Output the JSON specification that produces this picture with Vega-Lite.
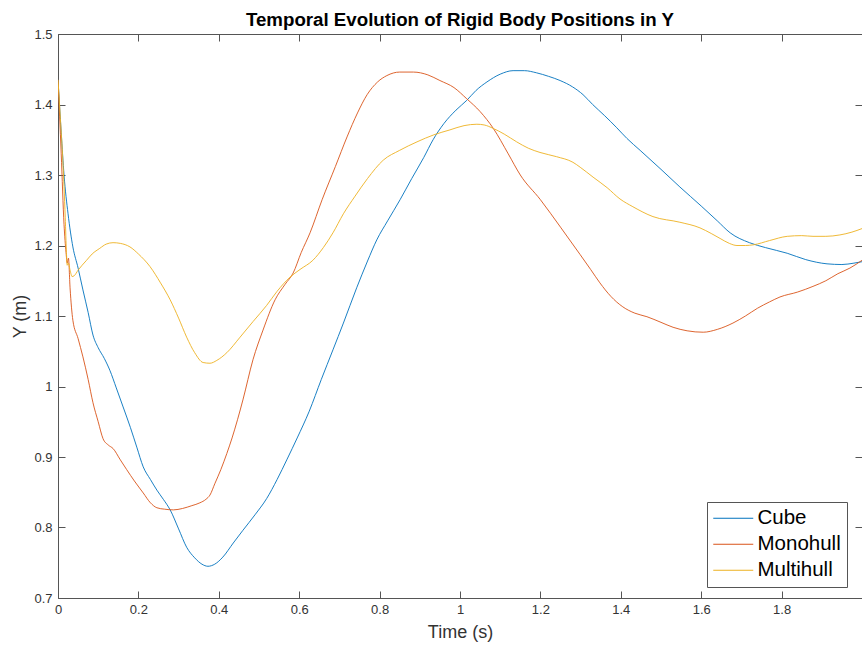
{
  "$schema": "https://vega.github.io/schema/vega-lite/v6.json",
  "width": 804,
  "height": 564,
  "autosize": {"type": "none"},
  "padding": {"left": 58, "top": 34, "right": 0, "bottom": 47},
  "background": "white",
  "title": {"text": "Temporal Evolution of Rigid Body Positions in Y", "font": "Liberation Sans", "fontSize": 18.7, "fontWeight": "bold", "color": "#000", "anchor": "middle", "offset": -2},
  "config": {
    "view": {"stroke": "#555", "strokeWidth": 1},
    "axis": {"domain": false, "grid": false, "tickSize": -7, "tickColor": "#555", "labelFont": "Liberation Sans", "labelFontSize": 13, "labelColor": "#333", "titleFont": "Liberation Sans", "titleFontSize": 18, "titleFontWeight": "normal", "titleColor": "#333"},
    "legend": {"orient": "none", "legendX": 649, "legendY": 468, "title": null, "symbolType": "M-2,0H6", "symbolSize": 100, "symbolStrokeWidth": 1, "symbolFillColor": "transparent", "labelFont": "Liberation Sans", "labelFontSize": 20.5, "labelColor": "#000", "strokeColor": "#555", "fillColor": "white", "padding": 6, "rowPadding": 5, "labelOffset": 24, "labelLimit": 300}
  },
  "datasets": {
    "d": [
      {"s":"Cube","t":0,"y":1.435},{"s":"Cube","t":0.008,"y":1.36},{"s":"Cube","t":0.015,"y":1.3},{"s":"Cube","t":0.025,"y":1.245},{"s":"Cube","t":0.037,"y":1.198},{"s":"Cube","t":0.05,"y":1.168},{"s":"Cube","t":0.062,"y":1.137},{"s":"Cube","t":0.075,"y":1.105},{"s":"Cube","t":0.087,"y":1.073},{"s":"Cube","t":0.1,"y":1.055},{"s":"Cube","t":0.115,"y":1.04},{"s":"Cube","t":0.129,"y":1.023},{"s":"Cube","t":0.145,"y":0.998},{"s":"Cube","t":0.162,"y":0.971},{"s":"Cube","t":0.18,"y":0.942},{"s":"Cube","t":0.196,"y":0.914},{"s":"Cube","t":0.212,"y":0.886},{"s":"Cube","t":0.23,"y":0.868},{"s":"Cube","t":0.246,"y":0.853},{"s":"Cube","t":0.262,"y":0.84},{"s":"Cube","t":0.279,"y":0.825},{"s":"Cube","t":0.3,"y":0.798},{"s":"Cube","t":0.32,"y":0.772},{"s":"Cube","t":0.34,"y":0.757},{"s":"Cube","t":0.358,"y":0.748},{"s":"Cube","t":0.373,"y":0.745},{"s":"Cube","t":0.39,"y":0.748},{"s":"Cube","t":0.41,"y":0.758},{"s":"Cube","t":0.436,"y":0.778},{"s":"Cube","t":0.46,"y":0.796},{"s":"Cube","t":0.49,"y":0.818},{"s":"Cube","t":0.519,"y":0.841},{"s":"Cube","t":0.545,"y":0.868},{"s":"Cube","t":0.57,"y":0.897},{"s":"Cube","t":0.595,"y":0.927},{"s":"Cube","t":0.625,"y":0.965},{"s":"Cube","t":0.655,"y":1.01},{"s":"Cube","t":0.684,"y":1.052},{"s":"Cube","t":0.71,"y":1.09},{"s":"Cube","t":0.743,"y":1.14},{"s":"Cube","t":0.77,"y":1.178},{"s":"Cube","t":0.793,"y":1.208},{"s":"Cube","t":0.82,"y":1.235},{"s":"Cube","t":0.851,"y":1.265},{"s":"Cube","t":0.88,"y":1.295},{"s":"Cube","t":0.91,"y":1.325},{"s":"Cube","t":0.933,"y":1.35},{"s":"Cube","t":0.96,"y":1.373},{"s":"Cube","t":0.99,"y":1.392},{"s":"Cube","t":1.017,"y":1.406},{"s":"Cube","t":1.04,"y":1.42},{"s":"Cube","t":1.067,"y":1.432},{"s":"Cube","t":1.1,"y":1.443},{"s":"Cube","t":1.132,"y":1.448},{"s":"Cube","t":1.16,"y":1.448},{"s":"Cube","t":1.19,"y":1.445},{"s":"Cube","t":1.22,"y":1.44},{"s":"Cube","t":1.249,"y":1.434},{"s":"Cube","t":1.28,"y":1.425},{"s":"Cube","t":1.306,"y":1.414},{"s":"Cube","t":1.33,"y":1.4},{"s":"Cube","t":1.36,"y":1.384},{"s":"Cube","t":1.39,"y":1.367},{"s":"Cube","t":1.415,"y":1.352},{"s":"Cube","t":1.448,"y":1.335},{"s":"Cube","t":1.5,"y":1.308},{"s":"Cube","t":1.547,"y":1.283},{"s":"Cube","t":1.6,"y":1.256},{"s":"Cube","t":1.64,"y":1.235},{"s":"Cube","t":1.672,"y":1.218},{"s":"Cube","t":1.72,"y":1.204},{"s":"Cube","t":1.76,"y":1.197},{"s":"Cube","t":1.814,"y":1.189},{"s":"Cube","t":1.86,"y":1.18},{"s":"Cube","t":1.913,"y":1.174},{"s":"Cube","t":1.95,"y":1.173},{"s":"Cube","t":1.98,"y":1.175},{"s":"Cube","t":2.0,"y":1.177},
      {"s":"Monohull","t":0,"y":1.435},{"s":"Monohull","t":0.008,"y":1.33},{"s":"Monohull","t":0.015,"y":1.23},{"s":"Monohull","t":0.02,"y":1.19},{"s":"Monohull","t":0.023,"y":1.175},{"s":"Monohull","t":0.026,"y":1.182},{"s":"Monohull","t":0.03,"y":1.14},{"s":"Monohull","t":0.037,"y":1.094},{"s":"Monohull","t":0.05,"y":1.068},{"s":"Monohull","t":0.062,"y":1.042},{"s":"Monohull","t":0.075,"y":1.01},{"s":"Monohull","t":0.087,"y":0.977},{"s":"Monohull","t":0.1,"y":0.95},{"s":"Monohull","t":0.112,"y":0.926},{"s":"Monohull","t":0.125,"y":0.917},{"s":"Monohull","t":0.137,"y":0.912},{"s":"Monohull","t":0.155,"y":0.896},{"s":"Monohull","t":0.171,"y":0.882},{"s":"Monohull","t":0.19,"y":0.866},{"s":"Monohull","t":0.212,"y":0.849},{"s":"Monohull","t":0.23,"y":0.835},{"s":"Monohull","t":0.246,"y":0.828},{"s":"Monohull","t":0.265,"y":0.826},{"s":"Monohull","t":0.287,"y":0.825},{"s":"Monohull","t":0.31,"y":0.827},{"s":"Monohull","t":0.333,"y":0.831},{"s":"Monohull","t":0.353,"y":0.835},{"s":"Monohull","t":0.368,"y":0.84},{"s":"Monohull","t":0.378,"y":0.846},{"s":"Monohull","t":0.39,"y":0.862},{"s":"Monohull","t":0.405,"y":0.882},{"s":"Monohull","t":0.42,"y":0.905},{"s":"Monohull","t":0.433,"y":0.927},{"s":"Monohull","t":0.46,"y":0.981},{"s":"Monohull","t":0.485,"y":1.038},{"s":"Monohull","t":0.51,"y":1.08},{"s":"Monohull","t":0.54,"y":1.123},{"s":"Monohull","t":0.565,"y":1.145},{"s":"Monohull","t":0.585,"y":1.161},{"s":"Monohull","t":0.605,"y":1.19},{"s":"Monohull","t":0.627,"y":1.218},{"s":"Monohull","t":0.657,"y":1.265},{"s":"Monohull","t":0.69,"y":1.312},{"s":"Monohull","t":0.719,"y":1.354},{"s":"Monohull","t":0.745,"y":1.388},{"s":"Monohull","t":0.769,"y":1.414},{"s":"Monohull","t":0.795,"y":1.432},{"s":"Monohull","t":0.818,"y":1.441},{"s":"Monohull","t":0.85,"y":1.446},{"s":"Monohull","t":0.884,"y":1.446},{"s":"Monohull","t":0.92,"y":1.442},{"s":"Monohull","t":0.95,"y":1.434},{"s":"Monohull","t":0.985,"y":1.424},{"s":"Monohull","t":1.017,"y":1.408},{"s":"Monohull","t":1.05,"y":1.39},{"s":"Monohull","t":1.083,"y":1.366},{"s":"Monohull","t":1.12,"y":1.33},{"s":"Monohull","t":1.15,"y":1.3},{"s":"Monohull","t":1.2,"y":1.265},{"s":"Monohull","t":1.25,"y":1.226},{"s":"Monohull","t":1.299,"y":1.187},{"s":"Monohull","t":1.325,"y":1.166},{"s":"Monohull","t":1.348,"y":1.147},{"s":"Monohull","t":1.375,"y":1.128},{"s":"Monohull","t":1.405,"y":1.113},{"s":"Monohull","t":1.435,"y":1.104},{"s":"Monohull","t":1.465,"y":1.099},{"s":"Monohull","t":1.5,"y":1.091},{"s":"Monohull","t":1.53,"y":1.084},{"s":"Monohull","t":1.565,"y":1.079},{"s":"Monohull","t":1.605,"y":1.077},{"s":"Monohull","t":1.64,"y":1.081},{"s":"Monohull","t":1.679,"y":1.09},{"s":"Monohull","t":1.71,"y":1.1},{"s":"Monohull","t":1.74,"y":1.111},{"s":"Monohull","t":1.77,"y":1.12},{"s":"Monohull","t":1.796,"y":1.127},{"s":"Monohull","t":1.84,"y":1.134},{"s":"Monohull","t":1.878,"y":1.142},{"s":"Monohull","t":1.91,"y":1.15},{"s":"Monohull","t":1.94,"y":1.16},{"s":"Monohull","t":1.97,"y":1.168},{"s":"Monohull","t":2.0,"y":1.179},
      {"s":"Multihull","t":0,"y":1.435},{"s":"Multihull","t":0.006,"y":1.38},{"s":"Multihull","t":0.012,"y":1.321},{"s":"Multihull","t":0.018,"y":1.24},{"s":"Multihull","t":0.021,"y":1.19},{"s":"Multihull","t":0.023,"y":1.172},{"s":"Multihull","t":0.026,"y":1.175},{"s":"Multihull","t":0.03,"y":1.165},{"s":"Multihull","t":0.035,"y":1.156},{"s":"Multihull","t":0.04,"y":1.157},{"s":"Multihull","t":0.05,"y":1.165},{"s":"Multihull","t":0.06,"y":1.172},{"s":"Multihull","t":0.071,"y":1.179},{"s":"Multihull","t":0.085,"y":1.188},{"s":"Multihull","t":0.104,"y":1.196},{"s":"Multihull","t":0.12,"y":1.202},{"s":"Multihull","t":0.137,"y":1.204},{"s":"Multihull","t":0.155,"y":1.203},{"s":"Multihull","t":0.179,"y":1.198},{"s":"Multihull","t":0.2,"y":1.188},{"s":"Multihull","t":0.229,"y":1.17},{"s":"Multihull","t":0.255,"y":1.147},{"s":"Multihull","t":0.279,"y":1.123},{"s":"Multihull","t":0.3,"y":1.097},{"s":"Multihull","t":0.32,"y":1.07},{"s":"Multihull","t":0.34,"y":1.048},{"s":"Multihull","t":0.361,"y":1.034},{"s":"Multihull","t":0.378,"y":1.033},{"s":"Multihull","t":0.395,"y":1.037},{"s":"Multihull","t":0.42,"y":1.048},{"s":"Multihull","t":0.453,"y":1.07},{"s":"Multihull","t":0.485,"y":1.092},{"s":"Multihull","t":0.519,"y":1.115},{"s":"Multihull","t":0.545,"y":1.135},{"s":"Multihull","t":0.577,"y":1.155},{"s":"Multihull","t":0.602,"y":1.166},{"s":"Multihull","t":0.634,"y":1.179},{"s":"Multihull","t":0.66,"y":1.197},{"s":"Multihull","t":0.684,"y":1.218},{"s":"Multihull","t":0.71,"y":1.245},{"s":"Multihull","t":0.739,"y":1.27},{"s":"Multihull","t":0.77,"y":1.295},{"s":"Multihull","t":0.809,"y":1.321},{"s":"Multihull","t":0.85,"y":1.335},{"s":"Multihull","t":0.893,"y":1.347},{"s":"Multihull","t":0.935,"y":1.357},{"s":"Multihull","t":0.975,"y":1.364},{"s":"Multihull","t":1.01,"y":1.37},{"s":"Multihull","t":1.042,"y":1.372},{"s":"Multihull","t":1.06,"y":1.371},{"s":"Multihull","t":1.083,"y":1.366},{"s":"Multihull","t":1.11,"y":1.358},{"s":"Multihull","t":1.141,"y":1.347},{"s":"Multihull","t":1.17,"y":1.338},{"s":"Multihull","t":1.199,"y":1.332},{"s":"Multihull","t":1.24,"y":1.326},{"s":"Multihull","t":1.281,"y":1.318},{"s":"Multihull","t":1.299,"y":1.311},{"s":"Multihull","t":1.331,"y":1.297},{"s":"Multihull","t":1.366,"y":1.282},{"s":"Multihull","t":1.398,"y":1.266},{"s":"Multihull","t":1.43,"y":1.255},{"s":"Multihull","t":1.48,"y":1.241},{"s":"Multihull","t":1.547,"y":1.233},{"s":"Multihull","t":1.597,"y":1.225},{"s":"Multihull","t":1.625,"y":1.217},{"s":"Multihull","t":1.647,"y":1.21},{"s":"Multihull","t":1.67,"y":1.203},{"s":"Multihull","t":1.689,"y":1.2},{"s":"Multihull","t":1.71,"y":1.2},{"s":"Multihull","t":1.73,"y":1.201},{"s":"Multihull","t":1.77,"y":1.207},{"s":"Multihull","t":1.814,"y":1.213},{"s":"Multihull","t":1.85,"y":1.214},{"s":"Multihull","t":1.878,"y":1.213},{"s":"Multihull","t":1.91,"y":1.213},{"s":"Multihull","t":1.945,"y":1.215},{"s":"Multihull","t":1.975,"y":1.219},{"s":"Multihull","t":2.0,"y":1.224}
    ]
  },
  "data": {"name": "d"},
  "layer": [
    {
      "mark": {"type": "line", "strokeWidth": 0.9, "interpolate": "monotone", "clip": true},
      "encoding": {
        "x": {"field": "t", "type": "quantitative", "scale": {"domain": [0, 2], "nice": false, "zero": false}, "axis": {"orient": "bottom", "title": "Time (s)", "values": [0, 0.2, 0.4, 0.6, 0.8, 1, 1.2, 1.4, 1.6, 1.8], "format": "~g", "labelPadding": 12, "titlePadding": 7, "labelFlush": false}},
        "y": {"field": "y", "type": "quantitative", "scale": {"domain": [0.7, 1.5], "nice": false, "zero": false}, "axis": {"orient": "left", "title": "Y (m)", "values": [0.7, 0.8, 0.9, 1, 1.1, 1.2, 1.3, 1.4, 1.5], "format": "~g", "labelPadding": 13, "titlePadding": 4, "labelFlush": false}},
        "color": {"field": "s", "type": "nominal", "scale": {"domain": ["Cube", "Monohull", "Multihull"], "range": ["#0072BD", "#D95319", "#EDB120"]}}
      }
    },
    {
      "mark": {"type": "point", "opacity": 0},
      "encoding": {
        "x": {"field": "t", "type": "quantitative", "axis": {"orient": "top", "title": null, "labels": false, "values": [0, 0.2, 0.4, 0.6, 0.8, 1, 1.2, 1.4, 1.6, 1.8, 2]}},
        "y": {"field": "y", "type": "quantitative", "axis": {"orient": "right", "title": null, "labels": false, "values": [0.7, 0.8, 0.9, 1, 1.1, 1.2, 1.3, 1.4, 1.5]}}
      }
    }
  ],
  "resolve": {"axis": {"x": "independent", "y": "independent"}}
}
